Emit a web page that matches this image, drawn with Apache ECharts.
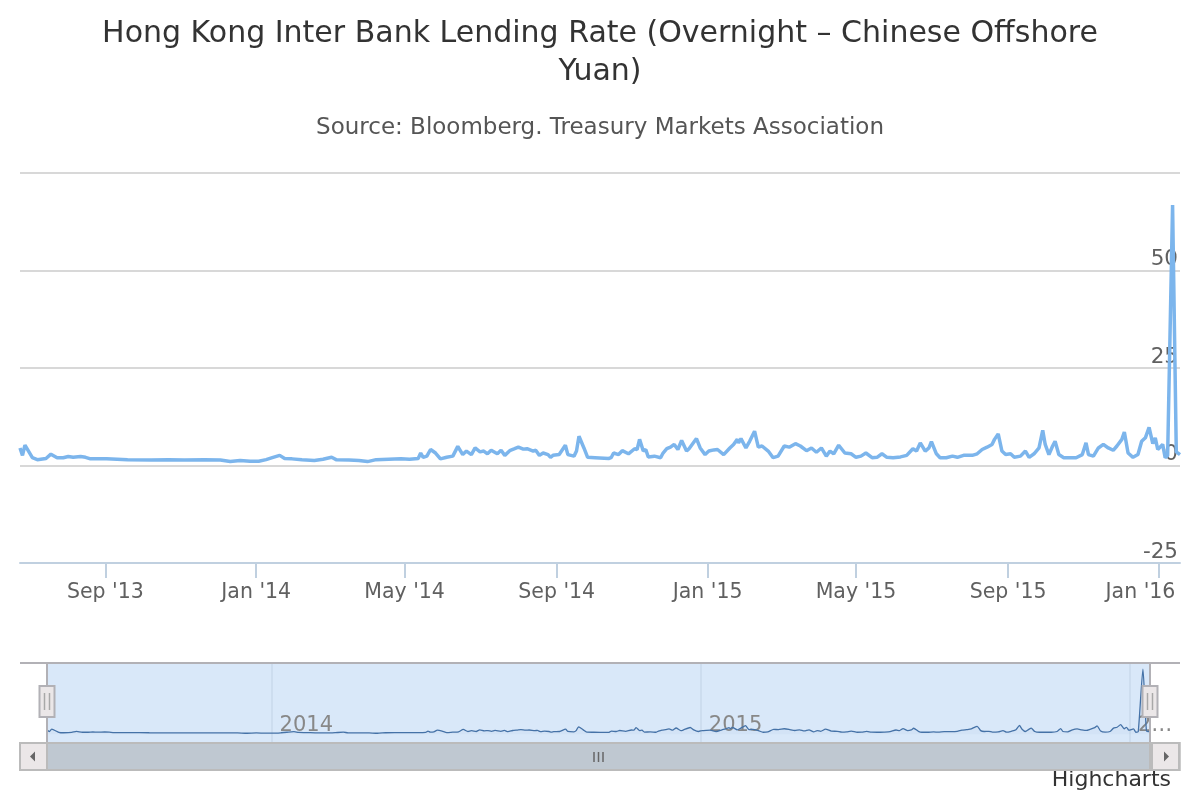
<!DOCTYPE html>
<html>
<head>
<meta charset="utf-8">
<script src="https://cdn.jsdelivr.net/npm/echarts@6/dist/echarts.min.js"></script>
<style>
html,body{margin:0;padding:0;background:#fff;}
#chart{width:1200px;height:800px;}
</style>
</head>
<body>
<div id="chart"></div>
<script>
// ---- Data ----
const titleText = 'Hong Kong Inter Bank Lending Rate (Overnight – Chinese Offshore\nYuan)';
const subtitleText = 'Source: Bloomberg. Treasury Markets Association';
const creditText = 'Highcharts';

const dates = [
'2013-06-24','2013-06-26','2013-06-28','2013-07-04','2013-07-08','2013-07-15','2013-07-19','2013-07-24','2013-07-29','2013-08-02',
'2013-08-06','2013-08-12','2013-08-16','2013-08-20','2013-09-02','2013-09-19','2013-10-08','2013-10-22','2013-11-04','2013-11-20',
'2013-12-03','2013-12-11','2013-12-19','2013-12-27','2014-01-03','2014-01-09','2014-01-14','2014-01-20','2014-01-24','2014-01-30',
'2014-02-07','2014-02-17','2014-02-24','2014-03-03','2014-03-07','2014-03-17','2014-03-25','2014-04-01','2014-04-08','2014-04-18',
'2014-04-28','2014-05-05','2014-05-12','2014-05-14','2014-05-16','2014-05-19','2014-05-22','2014-05-26','2014-05-30','2014-06-04',
'2014-06-09','2014-06-13','2014-06-17','2014-06-20','2014-06-24','2014-06-27','2014-07-01','2014-07-04','2014-07-07','2014-07-10',
'2014-07-15','2014-07-18','2014-07-21','2014-07-25','2014-07-29','2014-08-01','2014-08-05','2014-08-08','2014-08-13','2014-08-15',
'2014-08-18','2014-08-21','2014-08-25','2014-08-27','2014-08-29','2014-09-03','2014-09-08','2014-09-10','2014-09-15','2014-09-17',
'2014-09-19','2014-09-23','2014-09-26','2014-10-02','2014-10-13','2014-10-15','2014-10-17','2014-10-21','2014-10-24','2014-10-29',
'2014-11-03','2014-11-05','2014-11-07','2014-11-10','2014-11-12','2014-11-14','2014-11-19','2014-11-24','2014-11-26','2014-11-29',
'2014-12-02','2014-12-05','2014-12-08','2014-12-11','2014-12-15','2014-12-17','2014-12-23','2014-12-26','2014-12-30','2015-01-02',
'2015-01-06','2015-01-09','2015-01-14','2015-01-19','2015-01-22','2015-01-25','2015-01-26','2015-01-28','2015-02-01','2015-02-04',
'2015-02-08','2015-02-11','2015-02-14','2015-02-19','2015-02-23','2015-02-27','2015-03-04','2015-03-08','2015-03-13','2015-03-17',
'2015-03-22','2015-03-26','2015-03-30','2015-04-03','2015-04-07','2015-04-10','2015-04-13','2015-04-17','2015-04-22','2015-04-27',
'2015-05-01','2015-05-05','2015-05-09','2015-05-14','2015-05-18','2015-05-22','2015-05-26','2015-05-31','2015-06-06','2015-06-11',
'2015-06-16','2015-06-19','2015-06-22','2015-06-26','2015-06-29','2015-07-01','2015-07-05','2015-07-08','2015-07-13','2015-07-18',
'2015-07-22','2015-07-27','2015-08-03','2015-08-07','2015-08-11','2015-08-15','2015-08-19','2015-08-21','2015-08-24','2015-08-27',
'2015-08-30','2015-09-03','2015-09-06','2015-09-11','2015-09-15','2015-09-18','2015-09-22','2015-09-26','2015-09-29','2015-10-01',
'2015-10-04','2015-10-07','2015-10-09','2015-10-12','2015-10-16','2015-10-26','2015-10-31','2015-11-03','2015-11-05','2015-11-09',
'2015-11-13','2015-11-17','2015-11-21','2015-11-25','2015-11-28','2015-12-02','2015-12-04','2015-12-07','2015-12-11','2015-12-15',
'2015-12-18','2015-12-21','2015-12-24','2015-12-27','2015-12-29','2015-12-31','2016-01-04','2016-01-06','2016-01-08','2016-01-12',
'2016-01-15','2016-01-18'
];
const rates = [
4.5,2.6,5.2,2.0,1.5,1.8,2.9,2.0,2.0,2.3,
2.1,2.3,2.1,1.7,1.7,1.5,1.4,1.45,1.4,1.45,
1.4,1.0,1.3,1.1,1.1,1.5,2.0,2.6,1.8,1.7,
1.45,1.3,1.6,2.1,1.45,1.4,1.3,1.0,1.5,1.6,
1.7,1.6,1.8,3.2,2.1,2.4,4.1,3.2,1.7,2.1,
2.4,4.9,2.8,3.7,2.8,4.5,3.5,3.7,3.0,3.9,
3.0,3.9,2.6,3.8,4.3,4.7,4.2,4.3,3.7,3.9,
2.6,3.2,2.8,2.1,2.6,2.8,5.2,2.8,2.4,3.7,
7.5,4.5,2.1,2.0,1.8,2.0,3.2,2.8,3.8,3.0,
4.3,4.1,6.7,3.7,4.1,2.2,2.4,2.0,3.2,4.3,
4.7,5.4,4.1,6.4,3.7,4.3,6.9,4.5,2.8,3.7,
4.0,4.1,2.8,4.5,5.4,6.7,5.8,6.9,4.5,6.2,
8.8,4.7,5.0,3.7,2.0,2.4,5.0,4.7,5.6,5.0,
3.8,4.5,3.4,4.5,2.4,3.7,3.0,5.2,3.2,3.0,
2.1,2.4,3.2,2.0,2.1,3.0,2.1,2.0,2.2,2.6,
4.3,3.7,5.8,3.7,4.5,6.1,3.0,2.0,2.0,2.4,
2.1,2.6,2.6,3.0,4.1,4.7,5.4,6.7,8.1,3.7,
2.8,3.0,2.1,2.4,3.7,2.1,3.0,4.5,9.0,5.4,
2.8,5.0,6.2,2.8,2.0,2.0,2.8,5.8,2.8,2.4,
4.5,5.4,4.5,3.9,5.0,6.7,8.6,3.2,2.1,2.8,
6.2,7.1,9.8,5.6,7.1,4.1,5.4,2.0,2.5,66.8,
3.5,2.8
];

const tickDates = ['2013-09-01','2014-01-01','2014-05-01','2014-09-01','2015-01-01','2015-05-01','2015-09-01','2016-01-01'];
const tickLabels = ["Sep '13","Jan '14","May '14","Sep '14","Jan '15","May '15","Sep '15","Jan '16"];
const navTickDates = ['2014-01-01','2015-01-01','2016-01-01'];
const navTickLabels = ['2014','2015','2…'];
const yTicks = [-25, 0, 25, 50, 75];

// ---- Helpers ----
function toTime(s){ const p = s.split('-').map(Number); return Date.UTC(p[0], p[1]-1, p[2]); }
const seriesData = dates.map((d,i)=>[toTime(d), rates[i]]);
const tickTimes = tickDates.map(toTime);
const navTickTimes = navTickDates.map(toTime);
function nearestIndex(times, v){
  let best = 0, bd = Infinity;
  times.forEach((t,i)=>{ const dd = Math.abs(t - v); if (dd < bd){ bd = dd; best = i; } });
  return best;
}
function labelFor(times, labels, justifyLast){
  return function(v){
    const i = nearestIndex(times, v);
    if (justifyLast && i === labels.length - 1) return '{last|' + labels[i] + '}';
    return labels[i];
  };
}
const FONT = 'DejaVu Sans';
const xMin = toTime(dates[0]);
const xMax = toTime(dates[dates.length-1]);

const chart = echarts.init(document.getElementById('chart'), null, {renderer:'canvas'});

// navigator / scrollbar decoration
const navTop = 663, navBottom = 743, sbTop = 743, sbBottom = 770;
const navLeft = 47, navRight = 1150;
function handle(cx){
  return [
    {type:'rect', shape:{x:cx-7.5, y:686, width:15, height:31}, style:{fill:'#ebe7e8', stroke:'#b2b1b6', lineWidth:2}, z:100},
    {type:'line', shape:{x1:cx-2.5, y1:693, x2:cx-2.5, y2:710}, style:{stroke:'#a8a8a8', lineWidth:1.5}, z:101},
    {type:'line', shape:{x1:cx+2.5, y1:693, x2:cx+2.5, y2:710}, style:{stroke:'#a8a8a8', lineWidth:1.5}, z:101}
  ];
}
const graphics = [
  {type:'line', shape:{x1:20, y1:navTop, x2:1180, y2:navTop}, style:{stroke:'#b2b1b6', lineWidth:2}, z:90},
  {type:'line', shape:{x1:navLeft, y1:navTop, x2:navLeft, y2:navBottom}, style:{stroke:'#b2b1b6', lineWidth:2}, z:90},
  {type:'line', shape:{x1:navRight, y1:navTop, x2:navRight, y2:navBottom}, style:{stroke:'#b2b1b6', lineWidth:2}, z:90},
  {type:'rect', shape:{x:20, y:sbTop, width:1160, height:sbBottom-sbTop}, style:{fill:'#eeeeee', stroke:'#cccccc', lineWidth:2}, z:90},
  {type:'rect', shape:{x:navLeft, y:sbTop, width:navRight-navLeft, height:sbBottom-sbTop}, style:{fill:'#bfc8d1', stroke:'#bbbbbb', lineWidth:2}, z:91},
  {type:'line', shape:{x1:594, y1:752, x2:594, y2:762}, style:{stroke:'#666', lineWidth:1.5}, z:92},
  {type:'line', shape:{x1:598.5, y1:752, x2:598.5, y2:762}, style:{stroke:'#666', lineWidth:1.5}, z:92},
  {type:'line', shape:{x1:603, y1:752, x2:603, y2:762}, style:{stroke:'#666', lineWidth:1.5}, z:92},
  {type:'rect', shape:{x:20, y:sbTop, width:27, height:sbBottom-sbTop}, style:{fill:'#ebe7e8', stroke:'#bbbbbb', lineWidth:2}, z:92},
  {type:'polygon', shape:{points:[[30,756.5],[35,751.5],[35,761.5]]}, style:{fill:'#666'}, z:93},
  {type:'rect', shape:{x:1152, y:sbTop, width:27, height:sbBottom-sbTop}, style:{fill:'#ebe7e8', stroke:'#bbbbbb', lineWidth:2}, z:92},
  {type:'polygon', shape:{points:[[1169,756.5],[1164,751.5],[1164,761.5]]}, style:{fill:'#666'}, z:93}
].concat(handle(navLeft), handle(navRight));

chart.setOption({
  backgroundColor:'#ffffff',
  animation:false,
  title:[
    {text:titleText, left:'center', top:10,
     textStyle:{fontFamily:FONT, fontSize:30, fontWeight:'normal', color:'#333333', lineHeight:38}},
    {text:subtitleText, left:'center', top:109,
     textStyle:{fontFamily:FONT, fontSize:23, fontWeight:'normal', color:'#555555', lineHeight:28}},
    {text:creditText, right:24, top:762,
     textStyle:{fontFamily:FONT, fontSize:22, fontWeight:'normal', color:'#333333', lineHeight:26}}
  ],
  grid:[
    {left:20, right:20, top:173, height:390},
    {left:navLeft, right:1200-navRight, top:navTop, height:navBottom-navTop, show:true, backgroundColor:'#d9e8f9', borderWidth:0}
  ],
  xAxis:[
    {type:'value', gridIndex:0, min:xMin, max:xMax, scale:true,
     axisLine:{show:true, onZero:false, lineStyle:{color:'#C0D0E0', width:2}},
     axisTick:{show:true, customValues:tickTimes, length:15, lineStyle:{color:'#C0D0E0', width:2}},
     axisLabel:{show:true, customValues:tickTimes, formatter:labelFor(tickTimes, tickLabels, true),
       color:'#606060', fontFamily:FONT, fontSize:20.5, margin:19, showMinLabel:true, showMaxLabel:true,
       rich:{last:{color:'#606060', fontFamily:FONT, fontSize:20.5, padding:[0,37,0,0]}}},
     splitLine:{show:false}},
    {type:'value', gridIndex:1, min:xMin, max:xMax, scale:true,
     axisLine:{show:false, onZero:false},
     axisTick:{show:true, inside:true, customValues:navTickTimes, length:navBottom-navTop, lineStyle:{color:'#c9d9ec', width:1.5}},
     axisLabel:{show:true, inside:true, customValues:navTickTimes, formatter:labelFor(navTickTimes, navTickLabels, false),
       color:'#888888', fontFamily:FONT, fontSize:21, margin:7, align:'left', padding:[0,0,0,8]},
     splitLine:{show:false}},
  ],
  yAxis:[
    {type:'value', gridIndex:0, position:'right', min:-25, max:75, interval:25,
     axisLine:{show:false}, axisTick:{show:false},
     axisLabel:{show:true, inside:true, margin:2, verticalAlign:'bottom', padding:[0,0,0,0],
       color:'#606060', fontFamily:FONT, fontSize:21.5, showMaxLabel:false,
       formatter:function(v){ return yTicks.indexOf(v) >= 0 ? String(v) : ''; }},
     splitLine:{show:true, lineStyle:{color:'#d8d8d8', width:2}}},
    {type:'value', gridIndex:1, min:-9, max:73, show:false, splitLine:{show:false}}
  ],
  series:[
    {type:'line', name:'CNH HIBOR Overnight', xAxisIndex:0, yAxisIndex:0, data:seriesData,
     showSymbol:false, lineStyle:{color:'#7cb5ec', width:3.5}, itemStyle:{color:'#7cb5ec'}, z:3},
    {type:'line', name:'navigator', xAxisIndex:1, yAxisIndex:1, data:seriesData,
     showSymbol:false, smooth:0.2, lineStyle:{color:'#4572A7', width:1.3},
     areaStyle:{color:'rgba(69,114,167,0.05)'}, z:3}
  ],
  graphic:graphics
});
</script>
</body>
</html>
